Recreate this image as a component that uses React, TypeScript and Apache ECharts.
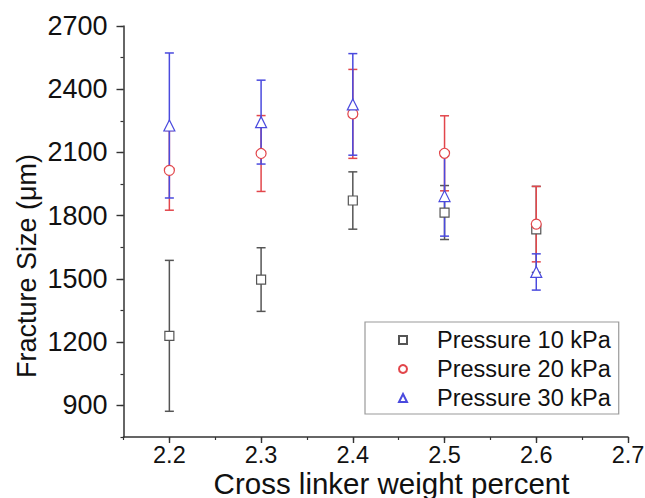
import React, { useEffect, useRef } from 'react';
import * as echarts from 'echarts';

const xValues = [2.2, 2.3, 2.4, 2.5, 2.6];
const seriesNames = ['Pressure 10 kPa', 'Pressure 20 kPa', 'Pressure 30 kPa'];
const mean10 = [1230, 1497, 1872, 1815, 1735];
const err10 = [358, 151, 136, 128, 204];
const mean20 = [2015, 2095, 2283, 2096, 1760];
const err20 = [189, 180, 211, 178, 179];
const mean30 = [2228, 2244, 2328, 1893, 1533];
const err30 = [344, 199, 241, 190, 86];
const yTickLabels = [900, 1200, 1500, 1800, 2100, 2400, 2700];
const xTickLabels = [2.2, 2.3, 2.4, 2.5, 2.6, 2.7];

const colors = ['#555555', '#e2464b', '#4a4ade'];
const symbols = ['rect', 'circle', 'triangle'];
const symbolSizes = [9, 10, 11];
const FONT = 'Liberation Sans, Arial, sans-serif';

export default function App() {
  const ref = useRef<HTMLDivElement>(null);
  useEffect(() => {
    const chart = echarts.init(ref.current!, null, { renderer: 'svg' });
    const means = [mean10, mean20, mean30];
    const errs = [err10, err20, err30];

    const errorSeries = means.map((m, s) => ({
      type: 'custom',
      name: seriesNames[s] + ' error',
      xAxisIndex: 0,
      yAxisIndex: 0,
      z: 2 + s,
      encode: { x: 0, y: [1, 2] },
      data: xValues.map((x, i) => [x, m[i] - errs[s][i], m[i] + errs[s][i]]),
      renderItem: (params: any, api: any) => {
        const x = api.value(0);
        const lo = api.coord([x, api.value(1)]);
        const hi = api.coord([x, api.value(2)]);
        const hw = 4.5;
        const style = { stroke: colors[s], lineWidth: 1.5, fill: null };
        return {
          type: 'group',
          children: [
            { type: 'line', shape: { x1: lo[0], y1: lo[1], x2: hi[0], y2: hi[1] }, style },
            { type: 'line', shape: { x1: lo[0] - hw, y1: lo[1], x2: lo[0] + hw, y2: lo[1] }, style },
            { type: 'line', shape: { x1: hi[0] - hw, y1: hi[1], x2: hi[0] + hw, y2: hi[1] }, style },
          ],
        };
      },
    }));

    const pointSeries = means.map((m, s) => ({
      type: 'scatter',
      name: seriesNames[s],
      xAxisIndex: 0,
      yAxisIndex: 0,
      z: 10,
      symbol: symbols[s],
      symbolSize: symbolSizes[s],
      itemStyle: { color: '#ffffff', borderColor: colors[s], borderWidth: 1.2, opacity: 1 },
      data: xValues.map((x, i) => [x, m[i]]),
    }));

    const axisLineStyle = { color: '#333333', width: 1.5 };

    const option: any = {
      animation: false,
      backgroundColor: '#ffffff',
      grid: { left: 123.5, right: 17, top: 26, bottom: 61, containLabel: false, outerBoundsMode: 'none' },
      xAxis: [
        {
          type: 'value',
          min: 2.15,
          max: 2.7,
          interval: 0.05,
          position: 'bottom',
          axisLine: { show: true, onZero: false, lineStyle: axisLineStyle },
          axisTick: { show: true, length: 3, lineStyle: { color: '#333', width: 1.2 } },
          axisLabel: {
            margin: 7,
            fontSize: 23.5,
            lineHeight: 21,
            color: '#111',
            fontFamily: FONT,
            formatter: (v: number) => {
              const r = Math.round(v * 100);
              return r % 10 === 0 && xTickLabels.includes(r / 100) ? (r / 100).toFixed(1) : '';
            },
          },
          splitLine: { show: false },
        },
        {
          type: 'value',
          min: 2.15,
          max: 2.7,
          position: 'bottom',
          offset: 0,
          axisLine: { show: false, onZero: false },
          axisTick: { show: true, length: 6, customValues: xTickLabels, lineStyle: { color: '#333', width: 1.4 } },
          axisLabel: { show: false },
          splitLine: { show: false },
        },
      ],
      yAxis: [
        {
          type: 'value',
          min: 750,
          max: 2700,
          interval: 150,
          position: 'left',
          axisLine: { show: true, onZero: false, lineStyle: axisLineStyle },
          axisTick: { show: true, length: 3, lineStyle: { color: '#333', width: 1.2 } },
          axisLabel: {
            margin: 16,
            fontSize: 27,
            color: '#111',
            fontFamily: FONT,
            formatter: (v: number) => (yTickLabels.includes(Math.round(v)) ? String(Math.round(v)) : ''),
          },
          splitLine: { show: false },
        },
        {
          type: 'value',
          min: 750,
          max: 2700,
          position: 'left',
          offset: 0,
          axisLine: { show: false, onZero: false },
          axisTick: { show: true, length: 7, customValues: yTickLabels, lineStyle: { color: '#333', width: 1.4 } },
          axisLabel: { show: false },
          splitLine: { show: false },
        },
      ],
      legend: {
        data: seriesNames,
        orient: 'vertical',
        left: 365,
        top: 322,
        padding: [6, 8, 4, 33],
        itemGap: 5,
        itemWidth: 8,
        itemHeight: 8,
        borderColor: '#9a9a9a',
        borderWidth: 1.2,
        selectedMode: false,
        textStyle: {
          fontSize: 23.5,
          lineHeight: 24,
          color: '#111',
          fontFamily: FONT,
          padding: [0, 0, 0, 25],
        },
      },
      graphic: [
        {
          type: 'text',
          x: 391.5,
          y: 483,
          style: {
            text: 'Cross linker weight percent',
            fontSize: 29.5,
            lineHeight: 28,
            fontFamily: FONT,
            fill: '#111',
            align: 'center',
            verticalAlign: 'middle',
          },
        },
        {
          type: 'text',
          x: 27,
          y: 266,
          rotation: Math.PI / 2,
          style: {
            text: 'Fracture Size (\u03bcm)',
            fontSize: 27,
            fontFamily: FONT,
            fill: '#111',
            align: 'center',
            verticalAlign: 'middle',
          },
        },
      ],
      series: [...errorSeries, ...pointSeries],
    };
    chart.setOption(option);
    return () => chart.dispose();
  }, []);
  return <div ref={ref} style={{ position: 'absolute', left: 0, top: 0, width: 645, height: 498 }} />;
}
